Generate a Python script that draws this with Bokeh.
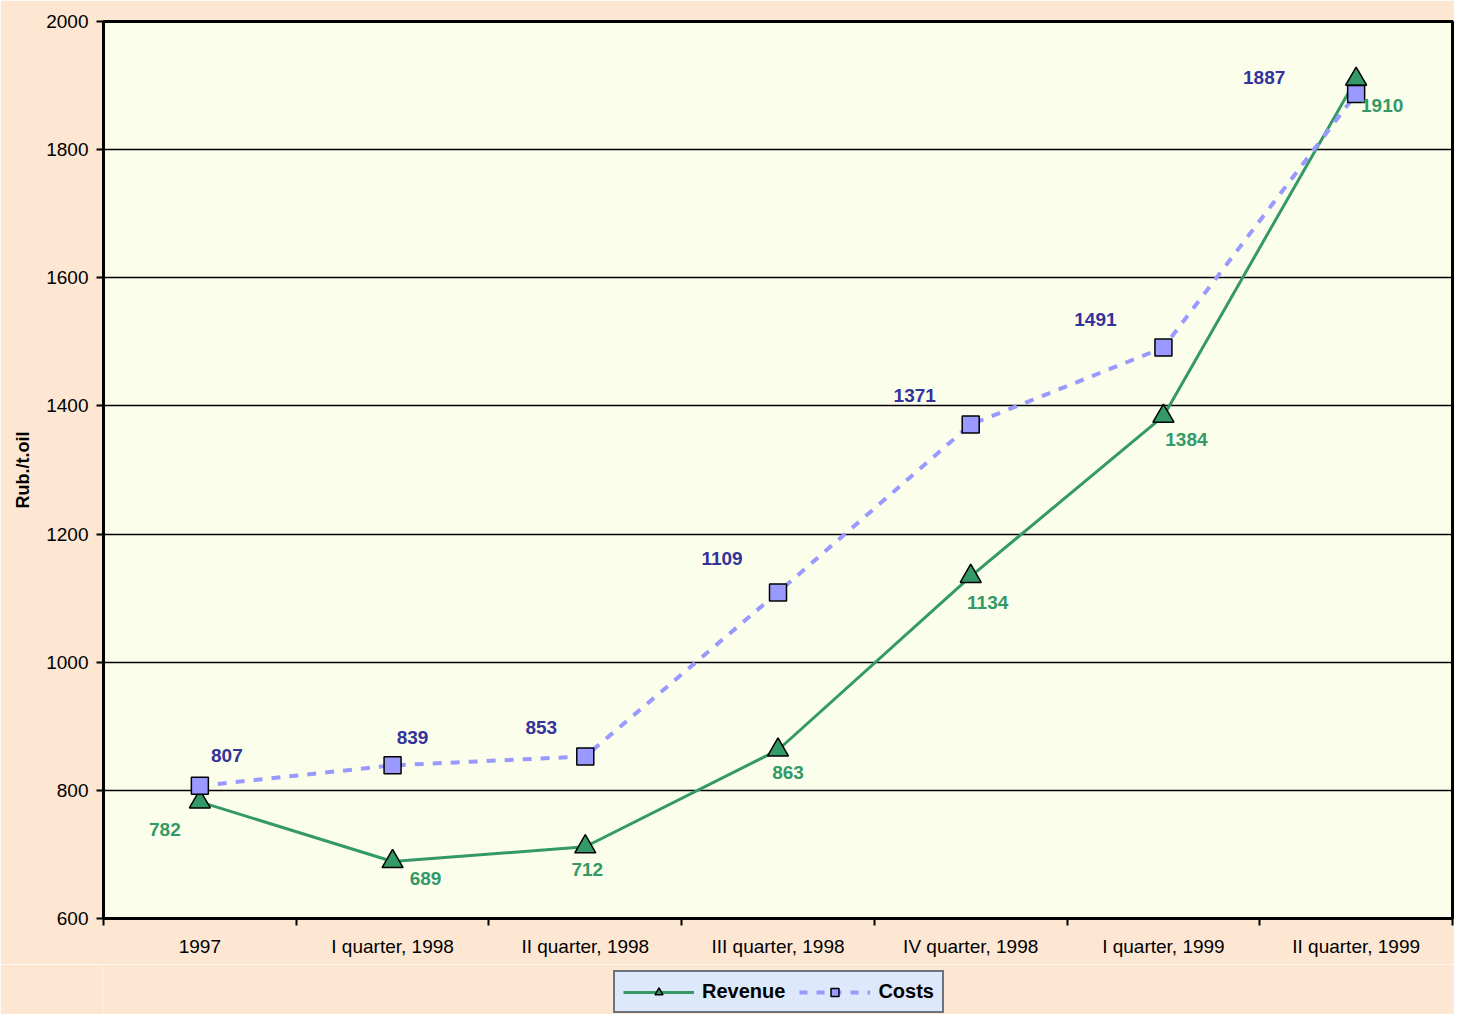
from bokeh.plotting import figure
from bokeh.layouts import column
from bokeh.models import ColumnDataSource, Range1d, FixedTicker, Legend, LegendItem
from bokeh.core.properties import value
from bokeh.embed import file_html
from bokeh.resources import INLINE

categories = ["1997", "I quarter, 1998", "II quarter, 1998", "III quarter, 1998",
              "IV quarter, 1998", "I quarter, 1999", "II quarter, 1999"]
revenue = [782, 689, 712, 863, 1134, 1384, 1910]
costs = [807, 839, 853, 1109, 1371, 1491, 1887]
y_ticks = [600, 800, 1000, 1200, 1400, 1600, 1800, 2000]

# label offsets in screen pixels (style, not data)
costs_dx = [27, 20, -44, -56, -56, -68, -92]
costs_dy = [-30, -28, -29, -34, -29, -28, -16]
rev_dx = [-35, 33, 2, 10, 17, 23, 26]
rev_dy = [28, 17, 23, 23, 26, 23, 26]

FONT = "Liberation Sans"
GREEN = "#339966"
LAV = "#9999FF"
NAVY = "#333399"
PEACH = "#FDE7D3"

xs = [i + 0.5 for i in range(len(categories))]

rsrc = ColumnDataSource(dict(x=xs, y=revenue, t=[str(v) for v in revenue], xo=rev_dx, yo=rev_dy))
csrc = ColumnDataSource(dict(x=xs, y=costs, t=[str(v) for v in costs], xo=costs_dx, yo=costs_dy))

p = figure(width=1454, height=964, x_range=Range1d(0, len(categories)), y_range=Range1d(600, 2000),
           output_backend="svg", toolbar_location=None,
           min_border_left=103, min_border_right=2, min_border_top=21, min_border_bottom=46)

p.background_fill_color = "#FCFEEC"
p.border_fill_color = PEACH
p.outline_line_color = "black"
p.outline_line_width = 3

# axes
p.xaxis.ticker = FixedTicker(ticks=xs, minor_ticks=list(range(len(categories) + 1)))
p.xaxis.major_label_overrides = {x: c for x, c in zip(xs, categories)}
p.xaxis.major_tick_out = 0
p.xaxis.major_tick_in = 0
p.xaxis.minor_tick_out = 7
p.xaxis.minor_tick_in = 0
p.xaxis.minor_tick_line_color = "black"
p.xaxis.minor_tick_line_width = 2
p.xaxis.major_label_standoff = 10
p.xaxis.axis_line_width = 3

p.yaxis.ticker = FixedTicker(ticks=y_ticks)
p.yaxis.major_tick_out = 7
p.yaxis.major_tick_in = 0
p.yaxis.major_tick_line_width = 2
p.yaxis.major_label_standoff = 8
p.yaxis.axis_line_width = 3
p.yaxis.axis_label = "Rub./t.oil"
p.yaxis.axis_label_text_font = FONT
p.yaxis.axis_label_text_font_style = "bold"
p.yaxis.axis_label_text_font_size = "18px"
p.yaxis.axis_label_standoff = 10
p.yaxis.axis_label_text_color = "black"

for ax in (p.xaxis, p.yaxis):
    ax.major_label_text_font = FONT
    ax.major_label_text_font_size = "19px"
    ax.major_label_text_color = "black"
    ax.axis_line_color = "black"
    ax.major_tick_line_color = "black"

p.xgrid.visible = False
p.ygrid.ticker = FixedTicker(ticks=y_ticks)
p.ygrid.grid_line_color = "black"
p.ygrid.grid_line_width = 1.5

# series
p.line("x", "y", source=rsrc, line_color=GREEN, line_width=3)
p.scatter("x", "y", source=rsrc, marker="triangle", size=21, fill_color=GREEN,
          line_color="black", line_width=1.5)
p.line("x", "y", source=csrc, line_color=LAV, line_width=4, line_dash="9 9")
p.scatter("x", "y", source=csrc, marker="square", size=17, fill_color=LAV,
          line_color="black", line_width=1.5)

p.text("x", "y", text="t", source=rsrc, x_offset="xo", y_offset="yo",
       text_font=value(FONT), text_font_style="bold", text_font_size="19px",
       text_color=GREEN, text_align="center", text_baseline="middle")
p.text("x", "y", text="t", source=csrc, x_offset="xo", y_offset="yo",
       text_font=value(FONT), text_font_style="bold", text_font_size="19px",
       text_color=NAVY, text_align="center", text_baseline="middle")

# legend strip below the chart (its proxy glyphs lie outside its visible range)
lg = figure(width=1454, height=50, x_range=Range1d(0, 1), y_range=Range1d(0, 1),
            output_backend="svg", toolbar_location=None,
            min_border_left=103, min_border_right=2, min_border_top=0, min_border_bottom=0)
lg.axis.visible = False
lg.grid.visible = False
lg.outline_line_color = None
lg.background_fill_color = PEACH
lg.border_fill_color = PEACH
proxy = ColumnDataSource(dict(x=[-3, -2], y=[-3, -2]))
l1 = lg.line("x", "y", source=proxy, line_color=GREEN, line_width=3)
m1 = lg.scatter("x", "y", source=proxy, marker="triangle", size=16, fill_color=GREEN,
                line_color="black", line_width=1.5)
l2 = lg.line("x", "y", source=proxy, line_color=LAV, line_width=4, line_dash="8 9")
m2 = lg.scatter("x", "y", source=proxy, marker="square", size=13, fill_color=LAV,
                line_color="black", line_width=1.5)

legend = Legend(items=[LegendItem(label="Revenue", renderers=[l1, m1], index=0),
                       LegendItem(label="Costs", renderers=[l2, m2], index=0)],
                orientation="horizontal", location=(510, 1))
legend.background_fill_color = "#DDE8FA"
legend.background_fill_alpha = 1
legend.border_line_color = "black"
legend.border_line_width = 2
legend.label_text_font = FONT
legend.label_text_font_style = "bold"
legend.label_text_font_size = "20px"
legend.label_text_color = "black"
legend.glyph_width = 71
legend.glyph_height = 20
legend.padding = 8
legend.spacing = 14
legend.label_standoff = 8
legend.margin = 0
lg.add_layout(legend)

layout = column(p, lg, spacing=0)
open("out.html", "w").write(file_html(layout, INLINE))
